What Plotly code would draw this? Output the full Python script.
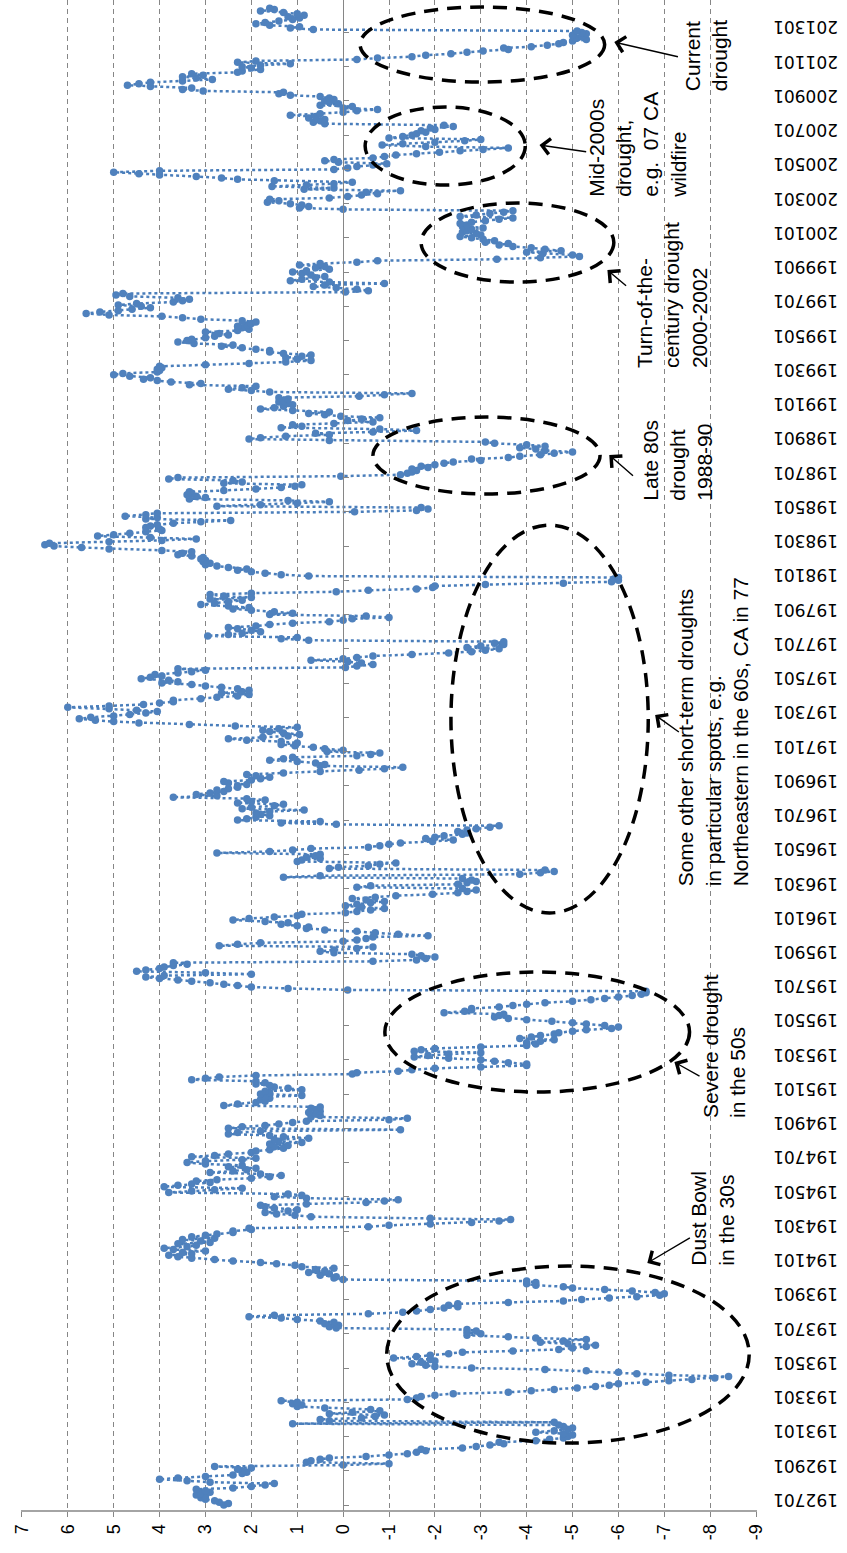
import plotly.graph_objects as go

# ---------------- data (monthly index values) ----------------
pdsi_1927_1929 = [
    2.6, 2.5, 2.7, 2.8, 3.0, 3.1, 3.0, 3.2, 3.1, 2.9, 3.0, 3.2,
    2.4, 2.0, 1.7, 1.5, 2.9, 3.4, 4.0, 3.6, 3.0, 2.4, 2.2, 2.1,
    2.2, 2.3, 2.0, 2.8, 0.0, -1.0, 0.8, 0.7, 0.5, 0.3, -0.5, -1.0,
]
pdsi_1930s = [
    -1.4, -1.6, -1.8, -1.7, -2.6, -2.9, -3.2, -3.5, -3.4, -4.2, -4.5, -4.8,
    -4.9, -5.0, -4.8, -4.2, -4.6, -4.9, -5.0, -4.8, -4.7, 1.1, -4.6, 0.3,
    0.5, -0.4, -0.7, -0.9, 0.3, -0.2, -0.8, -0.6, 0.4, 1.0, 0.9, 1.1,
    1.0, 1.35, -1.4, -1.6, -1.7, -2.0, -2.4, -3.6, -4.1, -4.6, -5.1, -5.5,
    -5.8, -6.0, -6.6, -7.1, -7.6, -8.1, -8.4, -7.1, -6.4, -6.0, -5.3, -4.4,
    -2.8, -2.0, -1.8, -1.5, -1.7, -2.0, -1.9, -1.1, -1.6, -1.9, -2.3, -2.6,
    -3.7, -4.7, -5.0, -5.3, -5.5, -4.9, -4.3, -4.8, -5.3, -4.2, -3.6, -2.7,
    -3.0, -2.7, -2.9, -2.7, 0.15, 0.3, 0.1, 0.4, 0.2, 0.5, 1.0, 1.35,
    2.05, 1.5, -0.55, -1.3, -1.6, -1.9, -2.2, -2.5, -2.3, -2.5, -3.6, -4.8,
    -5.2, -5.8, -6.4, -6.9, -7.0, -6.8, -6.3, -5.7, -5.0, -4.8, -4.2, -4.0,
]
pdsi_1940s = [
    -4.2, -4.0, 0.0, 0.2, 0.15, 0.5, 0.3, 0.75, 0.4, 0.6, 0.2, 0.9,
    1.05, 1.45, 1.8, 2.4, 2.8, 3.3, 3.6, 3.8, 3.3, 3.5, 3.0, 3.7,
    3.9, 3.4, 3.2, 3.6, 2.9, 3.1, 3.5, 2.8, 3.3, 3.0, 2.75, 2.4,
    2.4, 2.0, 2.05, -0.55, -1.0, -1.9, -2.8, -3.4, -3.65, -1.9, 0.7, 1.05,
    1.45, 1.7, 1.2, 1.0, 1.5, 1.7, 1.8, 0.8, -0.5, -0.9, -1.2, 0.8,
    1.5, 0.9, 1.2, 3.8, 3.3, 2.8, 2.2, 3.9, 3.6, 3.3, 2.9, 3.2,
    2.75, 2.0, 1.6, 1.35, 1.8, 2.9, 2.4, 2.1, 1.9, 2.5, 2.2, 3.0,
    3.4, 3.0, 2.2, 1.9, 3.3, 2.8, 2.5, 2.0, 1.9, 1.6, 1.3, 1.5,
    1.2, 1.6, 0.9, 1.4, 1.5, 0.75, 1.3, 1.6, 2.5, 2.3, 1.8, -1.25,
    2.5, 2.2, 1.7, 1.4, 1.1, 0.8, -1.0, -1.4, 0.7, 0.5, 0.6, 0.75,
]
pdsi_1950s = [
    0.5, 0.6, 0.7, 0.5, 2.6, 2.3, 1.9, 1.7, 1.8, 1.6, 1.7, 0.9,
    1.8, 1.6, 1.7, 0.9, 1.2, 1.5, 1.6, 1.9, 1.7, 1.9, 3.3, 3.0,
    2.7, 1.9, -0.2, -0.3, -1.2, -1.5, -2.0, -3.0, -4.0, -4.0, -3.6, -3.3,
    -3.0, -2.3, -1.55, -1.85, -2.3, -3.0, -1.55, -1.7, -2.0, -3.0, -4.0, -4.2,
    -4.0, -4.3, -4.6, -3.85, -4.1, -4.3, -4.6, -4.7, -5.0, -5.3, -5.85, -6.0,
    -5.7, -5.3, -5.0, -4.55, -4.0, -3.6, -3.3, -3.4, -3.5, -2.2, -2.65, -2.8,
    -2.8, -3.4, -3.7, -4.0, -4.4, -5.0, -5.4, -5.7, -6.0, -6.3, -6.5, -6.6,
    -6.6, -0.1, 1.2, 2.0, 2.3, 2.6, 2.9, 3.3, 3.6, 4.0, 4.3, 3.9,
    2.0, 3.0, 4.5, 4.3, 4.0, 3.9, 3.7, 3.4, 3.7, -0.65, -1.6, -1.8,
    -2.0, -1.7, -1.5, 0.2, 0.5, 0.2, -0.3, -0.65, 2.7, 2.3, 1.8, 0.0,
]
pdsi_1960s = [
    -0.3, -0.5, -0.65, -1.85, -1.2, -0.7, -0.3, 0.4, 0.8, 0.75, 1.0, 1.35,
    1.2, 1.7, 2.4, 2.05, 1.5, 1.0, 0.9, -0.05, -0.3, -0.6, -0.9, -0.4,
    -0.05, -0.3, -0.6, -0.9, -0.5, -0.2, -0.7, -1.15, -1.95, -2.5, -2.7, -2.9,
    -2.6, -0.3, -0.6, -2.5, -2.7, -2.9, -2.8, -2.6, 1.3, 0.5, -3.85, -4.3,
    -4.6, -4.4, 0.3, 0.1, -0.55, -0.8, -1.15, 1.0, 0.9, 0.5, 0.8, 0.6,
    0.5, 2.75, 1.6, 1.1, 0.7, -0.55, -0.8, -1.0, -1.25, -1.95, -2.4, -1.8,
    -2.0, -2.2, -2.6, -2.7, -2.5, -2.7, -2.9, -3.2, -3.4, 0.15, 1.35, 0.5,
    2.3, 2.1, 1.9, 1.6, 1.8, 1.9, 1.6, 0.85, 2.2, 2.0, 1.5, 1.3,
    2.3, 2.0, 1.7, 2.1, 3.7, 2.75, 3.2, 2.9, 2.6, 2.75, 2.5, 2.3,
    2.3, 2.1, 2.5, 2.6, 2.0, 1.8, 1.6, 1.9, 2.1, 1.3, 0.5, -0.35,
]
pdsi_1970s = [
    -0.9, -1.3, 0.5, 0.4, 0.6, 1.0, 1.6, 1.3, 1.1, -0.3, -0.6, -0.8,
    0.35, 0.0, 0.4, 0.65, 1.05, 1.35, 1.0, 1.35, 2.1, 2.5, 1.75, 1.2,
    0.95, 1.3, 1.6, 1.75, 1.4, 1.0, 2.35, 3.35, 4.45, 5.0, 5.4, 5.75,
    5.5, 5.0, 4.65, 4.3, 4.05, 4.5, 5.1, 6.0, 5.1, 4.35, 4.0, 3.7,
    3.7, 3.1, 2.75, 2.3, 2.05, 2.65, 2.2, 2.05, 2.3, 2.65, 3.0, 3.3,
    3.95, 3.6, 3.8, 4.4, 4.2, 3.95, 4.1, 3.6, 3.3, 3.0, 3.6, -0.05,
    -0.3, -0.65, -0.4, -0.1, 0.7, 0.0, -0.3, -0.65, -1.5, -2.3, -2.8, -3.1,
    -3.4, -2.7, -3.0, -3.5, -3.3, -3.5, 0.75, 1.35, 1.0, 2.95, 2.5, 2.2,
    1.8, 2.0, 2.3, 2.5, 1.9, 1.6, 1.1, 0.3, 0.0, -0.2, -1.0, -0.5,
    1.6, 1.1, 1.5, 2.0, 2.4, 2.05, 2.5, 3.1, 2.8, 2.5, 2.2, 2.9,
]
pdsi_1980s = [
    2.0, 2.6, 2.9, 2.0, 0.15, -0.55, -1.6, -1.95, -2.0, -3.1, -4.8, -5.85,
    -6.0, -5.9, -6.0, 0.75, 1.35, 1.7, 2.0, 2.3, 2.1, 2.5, 2.75, 3.0,
    2.9, 3.05, 3.0, 3.1, 3.05, 3.3, 3.6, 3.5, 3.3, 3.95, 5.1, 5.7,
    6.3, 6.5, 6.4, 5.1, 3.95, 3.2, 4.2, 5.35, 5.0, 4.65, 4.3, 3.95,
    4.0, 4.3, 4.2, 4.05, 3.7, 3.1, 2.45, 4.3, 4.05, 4.75, 4.3, 4.05,
    -0.25, -1.6, -1.85, -1.7, 2.75, 1.8, 1.0, 0.3, 1.2, 3.35, 3.0, 3.2,
    3.4, 3.3, 3.35, 2.6, 1.9, 1.35, 1.05, 0.9, 2.6, 2.2, 2.4, 3.8,
    3.6, 0.05, -1.25, -1.4, -1.5, -1.6, -1.5, -1.85, -1.7, -2.0, -2.2, -2.4,
    -3.0, -2.8, -3.6, -3.85, -4.3, -4.6, -5.0, -4.4, -4.2, -3.85, -4.4, -4.0,
    -3.3, -3.1, 0.3, 2.05, 1.8, 1.25, 0.3, 0.6, -0.65, -1.6, -0.8, 1.35,
]
pdsi_1990s = [
    0.9, 1.1, 0.2, -0.65, -0.1, -0.4, -0.8, 0.05, 0.4, 0.75, 0.3, 1.1,
    1.8, 1.5, 1.3, 1.1, 1.2, 1.4, 1.3, 1.2, 1.4, -0.35, -0.9, -1.5,
    1.6, 2.0, 2.5, 2.2, 1.9, 3.35, 3.1, 3.75, 4.05, 4.35, 4.2, 4.65,
    5.0, 4.8, 4.05, 4.0, 4.05, 3.95, 4.0, 3.0, 2.05, 1.25, 0.7, 1.0,
    1.25, 0.9, 0.7, 1.3, 1.6, 1.6, 1.9, 2.2, 2.65, 2.4, 3.25, 3.6,
    3.4, 3.3, 3.0, 2.8, 2.5, 2.7, 3.0, 2.3, 2.05, 2.2, 2.3, 2.1,
    2.0, 1.9, 2.2, 3.1, 3.5, 3.95, 5.1, 5.6, 5.3, 4.9, 4.6, 4.2,
    4.4, 4.9, 4.5, 3.7, 3.5, 3.35, 3.6, 4.65, 4.95, 4.8, -0.05, -0.55,
    -0.3, 0.15, 0.65, 0.4, -0.9, 0.3, 1.15, 0.9, 0.6, 0.4, 0.7, 0.9,
    1.1, 0.8, 0.3, 0.6, 0.4, 0.95, 0.5, -0.3, -0.75, -3.35, -4.3, -5.15,
]
pdsi_2000s = [
    -5.0, -4.35, -4.0, -4.75, -4.4, -4.1, -3.7, -3.4, -3.6, -3.1, -3.3, -3.05,
    -2.8, -2.55, -3.0, -2.9, -2.6, -2.7, -2.8, -3.05, -2.6, -2.7, -2.55, -2.8,
    -3.1, -3.4, -3.7, -2.55, -2.9, -3.2, -3.5, -3.7, 0.0, 0.95, 0.75, 0.9,
    1.15, 1.65, 1.4, 1.6, 0.3, -0.1, -0.4, -0.75, -0.5, -1.25, 0.85, 0.2,
    1.55, 0.8, 0.2, -0.2, 1.5, 2.3, 2.65, 3.2, 4.0, 4.45, 5.0, 4.0,
    0.2, -0.1, -0.3, -0.65, -0.95, 0.1, 0.4, 0.2, -0.65, -0.9, -1.15, -1.6,
    -2.1, -2.55, -3.05, -3.6, -1.8, -0.85, -1.3, -2.0, -2.65, -3.0, -1.0, -1.3,
    -1.5, -1.6, -1.8, -1.7, -2.0, -1.9, -2.4, -2.2, 0.4, 0.65, 0.5, 0.4,
    0.75, 0.6, 1.15, 0.5, 0.0, -0.3, -0.75, 0.0, -0.2, 0.5, 0.1, 0.3,
    0.4, 0.2, 0.3, 0.5, 1.15, 1.4, 1.3, 3.05, 3.5, 3.3, 4.2, 4.7,
]
pdsi_2010s = [
    4.45, 4.2, 3.5, 2.85, 3.2, 3.5, 3.05, 3.3, 2.3, 2.2, 1.8, 2.0,
    2.2, 1.8, 1.15, 2.3, 1.9, -0.3, -0.75, -1.5, -1.8, -2.35, -2.7, -3.05,
    -3.6, -3.5, -4.1, -4.45, -4.7, -4.8, -5.0, -5.3, -5.1, -5.2, -5.0, -5.3,
    -5.2, -5.1, 0.65, 1.15, 0.95, 1.6, 1.9, 1.7, 1.4, 1.1, 0.95, 1.2,
    0.85, 1.0, 1.3, 1.8, 1.5, 1.6,
]

date_tick_labels = [
    "192701", "192901", "193101", "193301", "193501", "193701", "193901",
    "194101", "194301", "194501", "194701", "194901", "195101", "195301",
    "195501", "195701", "195901", "196101", "196301", "196501", "196701",
    "196901", "197101", "197301", "197501", "197701", "197901", "198101",
    "198301", "198501", "198701", "198901", "199101", "199301", "199501",
    "199701", "199901", "200101", "200301", "200501", "200701", "200901",
    "201101", "201301",
]
value_ticks = [7, 6, 5, 4, 3, 2, 1, 0, -1, -2, -3, -4, -5, -6, -7, -8, -9]
value_tick_labels = ["7", "6", "5", "4", "3", "2", "1", "0", "-1", "-2",
                     "-3", "-4", "-5", "-6", "-7", "-8", "-9"]

callout_texts = [
    "Dust Bowl<br>in the 30s",
    "Severe drought<br>in the 50s",
    "Some other short-term droughts<br>in particular spots, e.g.<br>Northeastern in the 60s, CA in 77",
    "Late 80s<br>drought<br>1988-90",
    "Turn-of-the-<br>century drought<br>2000-2002",
    "Mid-2000s<br>drought,<br>e.g.  07 CA<br>wildfire",
    "Current<br>drought",
]

# ---------------- assemble ----------------
values = (pdsi_1927_1929 + pdsi_1930s + pdsi_1940s + pdsi_1950s + pdsi_1960s
          + pdsi_1970s + pdsi_1980s + pdsi_1990s + pdsi_2000s + pdsi_2010s)
month_index = list(range(len(values)))
first_year = int(date_tick_labels[0][:4])
tick_index = [(int(t[:4]) - first_year) * 12 + int(t[4:]) - 1 for t in date_tick_labels]

Y_RANGE = [-4.2, 1054.7]
X_RANGE = [7.02, -9.02]
FONT = "Liberation Sans, Arial, sans-serif"
GRID = "#868686"

fig = go.Figure()
fig.add_trace(go.Scatter(
    x=values, y=month_index, mode="lines+markers",
    line=dict(color="#4A7EBB", width=2.5, dash="dot"),
    marker=dict(color="#4F81BD", size=7.5),
    hoverinfo="skip", showlegend=False,
))
# empty helper trace so the zero-line axis (with its tick marks) is drawn
fig.add_trace(go.Scatter(x=[None], y=[None], yaxis="y2", showlegend=False, hoverinfo="skip"))

# ellipses: (value from, value to, month from, month to)
ellipses = [
    (-0.95, -8.85, 43.4, 167.5),
    (-0.91, -7.55, 289.4, 373.5),
    (-2.35, -6.65, 414.9, 686.7),
    (-0.65, -5.6, 708.5, 762.4),
    (-1.7, -5.9, 857.0, 912.4),
    (-0.48, -3.97, 925.0, 979.7),
    (-0.37, -5.7, 997.2, 1049.8),
]
for x0, x1, y0, y1 in ellipses:
    fig.add_shape(type="circle", xref="x", yref="y", x0=x0, x1=x1, y0=y0, y1=y1,
                  line=dict(color="black", width=3.5, dash="14px,9px"))

# text positions (value centre, month where the text starts) and arrows (tip, tail)
text_pos = [(-8.04, 166), (-8.3, 269.8), (-8.08, 432.4), (-7.28, 702.2),
            (-7.17, 795.4), (-6.4, 914.5), (-7.9, 989.5)]
arrows = [((-6.63, 169.6), (-7.59, 187.8)),
          ((-7.22, 310.4), (-7.8, 299.9)),
          ((-6.8, 553.6), (-7.35, 541.0)),
          ((-5.8, 735.8), (-6.35, 720.4)),
          ((-5.76, 865.4), (-6.2, 853.5)),
          ((-4.28, 953.1), (-5.33, 948.2)),
          ((-5.91, 1025.2), (-7.33, 1014.7))]

for txt, (tx, ty) in zip(callout_texts, text_pos):
    fig.add_annotation(x=tx, y=ty, xref="x", yref="y", text=txt, showarrow=False,
                       textangle=-90, align="left", xanchor="center", yanchor="bottom",
                       font=dict(family=FONT, size=21, color="black"))
for (hx, hy), (tx, ty) in arrows:
    fig.add_annotation(x=hx, y=hy, ax=tx, ay=ty, xref="x", yref="y", axref="x", ayref="y",
                       text="", showarrow=True, arrowhead=4, arrowsize=2.2, arrowwidth=1.4,
                       arrowcolor="black", standoff=0, startstandoff=0)

fig.update_layout(
    width=847, height=1553,
    margin=dict(l=21, r=90, t=0, b=42, autoexpand=False),
    paper_bgcolor="white", plot_bgcolor="white",
    font=dict(family=FONT, color="black"),
    showlegend=False,
    xaxis=dict(
        range=X_RANGE, tickvals=value_ticks, ticktext=value_tick_labels,
        tickangle=-90, ticks="outside", ticklen=5, tickcolor=GRID,
        tickfont=dict(family=FONT, size=18, color="black"),
        showgrid=True, gridcolor=GRID, gridwidth=1, griddash="5px,4px",
        zeroline=True, zerolinecolor=GRID, zerolinewidth=1,
        showline=False, automargin=False,
    ),
    yaxis=dict(
        range=Y_RANGE, side="right", tickvals=tick_index, ticktext=date_tick_labels,
        tickangle=180, ticks="", showgrid=False, zeroline=False, showline=False,
        tickfont=dict(family="DejaVu Sans", size=17, color="black"),
        ticklabelstandoff=80, automargin=False,
    ),
    yaxis2=dict(
        range=Y_RANGE, overlaying="y", anchor="free",
        position=(X_RANGE[0] - 0) / (X_RANGE[0] - X_RANGE[1]), side="right",
        tickvals=tick_index, showticklabels=False, ticks="outside", ticklen=5,
        tickcolor=GRID, showline=True, linecolor=GRID, linewidth=1,
        showgrid=False, zeroline=False, automargin=False,
    ),
)
# bottom axis line (original value axis)
fig.add_shape(type="line", xref="paper", yref="paper", x0=0, x1=1, y0=0, y1=0,
              line=dict(color=GRID, width=1.5))

# no mode bar; remove the browser's default page margin so the figure sits at the window origin
fig.write_html("out.html", config={"displayModeBar": False},
               post_script="document.body.style.margin='0px';")
